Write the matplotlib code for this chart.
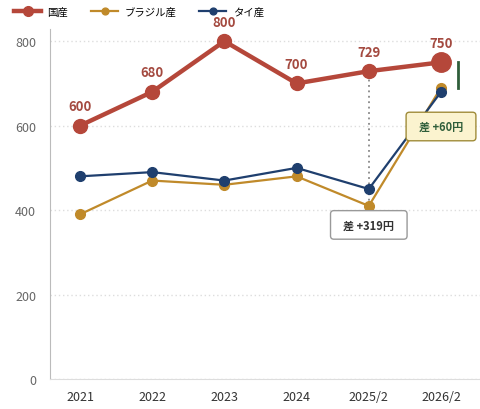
import matplotlib
matplotlib.use("Agg")
import matplotlib.pyplot as plt

plt.rcParams['font.family'] = ['Noto Sans CJK JP', 'DejaVu Sans']

# 価格の推移（円）
periods = ["2021", "2022", "2023", "2024", "2025/2", "2026/2"]
domestic = [600, 680, 800, 700, 729, 750]
brazil = [390, 470, 460, 480, 410, 690]
thai = [480, 490, 470, 500, 450, 680]
y_ticks = [0, 200, 400, 600, 800]

RED = "#b5473a"
GOLD = "#c08a2a"
NAVY = "#1f3f6e"
GREEN = "#2f5e3a"

fig = plt.figure(figsize=(4.81, 4.10), dpi=100)
ax = fig.add_axes([0.104, 0.073, 0.896, 0.855])

x = list(range(len(periods)))

ax.plot(x, brazil, color=GOLD, lw=1.6, marker="o", ms=7, zorder=3, label="ブラジル産")
ax.plot(x, thai, color=NAVY, lw=1.6, marker="o", ms=7, zorder=4, label="タイ産")
ax.plot(x, domestic, color=RED, lw=3.2, marker="o", ms=10, zorder=5, label="国産")
# 最新値を強調
ax.plot(x[-1], domestic[-1], "o", color=RED, ms=14, zorder=6)

for xi, v in zip(x, domestic):
    ax.annotate(str(v), (xi, v), xytext=(0, 9), textcoords="offset points",
                ha="center", va="bottom", fontsize=9.5, fontweight="bold",
                color="#a44a40", zorder=7)

# 2025/2 の差
i = 4
ax.plot([i, i], [brazil[i], domestic[i]], color="#888888", lw=1.3,
        ls=(0, (1, 2)), zorder=2)
ax.text(i, 365, f"  差 +{domestic[i] - brazil[i]}円  ",
        ha="center", va="center", fontsize=8, fontweight="bold", color="#333333",
        bbox=dict(boxstyle="round,pad=0.7,rounding_size=0.3", fc="white",
                  ec="#999999", lw=1), zorder=8)

# 2026/2 の差
j = 5
ax.plot([j + 0.24, j + 0.24], [brazil[j], domestic[j]], color=GREEN, lw=2, zorder=6)
ax.text(j, 598, f"  差 +{domestic[j] - brazil[j]}円  ",
        ha="center", va="center", fontsize=8, fontweight="bold", color=GREEN,
        bbox=dict(boxstyle="round,pad=0.7,rounding_size=0.3", fc="#fbf3cf",
                  ec="#a08c3a", lw=1), zorder=8)

ax.set_xlim(-0.415, 5.554)
ax.set_ylim(0, 830)
ax.set_xticks(x)
ax.set_xticklabels(periods, fontsize=9, color="#333333")
ax.set_yticks(y_ticks)
ax.set_yticklabels([str(t) for t in y_ticks], fontsize=9, color="#666666")
ax.tick_params(length=0, pad=8)
ax.tick_params(axis="y", pad=10)

ax.grid(axis="y", color="#dddddd", ls=(0, (1, 2)), lw=1)
ax.set_axisbelow(True)
for s in ["top", "right"]:
    ax.spines[s].set_visible(False)
ax.spines["left"].set_color("#bbbbbb")
ax.spines["bottom"].set_color("#dddddd")

handles, labels = ax.get_legend_handles_labels()
order = [2, 0, 1]
fig.legend([handles[k] for k in order], [labels[k] for k in order],
           loc="upper left", bbox_to_anchor=(0.01, 1.005), ncol=3, frameon=False,
           fontsize=7.5, handlelength=2.6, columnspacing=2.2, handletextpad=0.6,
           markerscale=0.7)

fig.savefig("out.png", dpi=100)
